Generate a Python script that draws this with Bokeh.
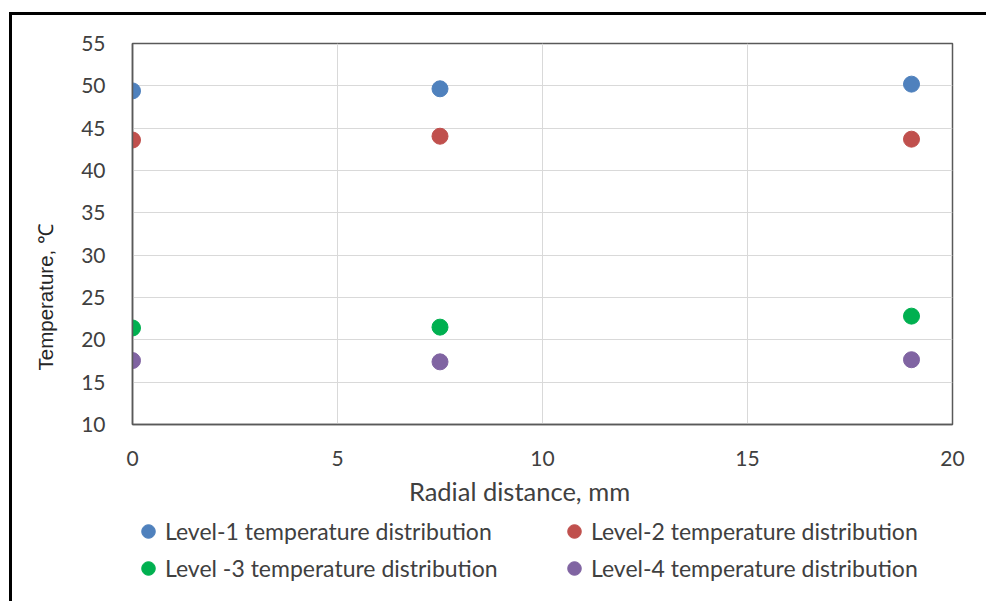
from bokeh.plotting import figure
from bokeh.layouts import column
from bokeh.models import Legend, LegendItem, FixedTicker, Range1d, Label, Title
from bokeh.embed import file_html
from bokeh.resources import INLINE

# Measured temperatures at each radial position
radial_mm = [0, 7.5, 19]
level1 = [49.4, 49.65, 50.2]
level2 = [43.6, 44.05, 43.7]
level3 = [21.4, 21.5, 22.8]
level4 = [17.55, 17.4, 17.65]

series_names = [
    "Level-1 temperature distribution",
    "Level-2 temperature distribution",
    "Level -3 temperature distribution",
    "Level-4 temperature distribution",
]
series_colors = ["#4F81BD", "#C0504D", "#00B050", "#8064A2"]

x_ticks = [0, 5, 10, 15, 20]
y_ticks = [10, 15, 20, 25, 30, 35, 40, 45, 50, 55]

FONT = "Lato"
GRID = "#D9D9D9"
AXIS = "#595959"
TEXT = "#404040"

# ---- main scatter plot ----
p = figure(
    width=974, height=455,
    x_range=Range1d(0, 20), y_range=Range1d(10, 55),
    output_backend="svg", toolbar_location=None,
    min_border_left=120, min_border_top=28, min_border_right=34, min_border_bottom=46,
)
p.background_fill_color = "white"
p.border_fill_color = "white"
p.outline_line_color = AXIS
p.outline_line_width = 1.5

for vals, color in zip([level1, level2, level3, level4], series_colors):
    p.scatter(radial_mm, vals, size=16, fill_color=color, line_color=color)

for ax in (p.xaxis[0], p.yaxis[0]):
    ax.major_tick_line_color = None
    ax.minor_tick_line_color = None
    ax.axis_line_color = AXIS
    ax.axis_line_width = 1.5
    ax.major_label_text_font = FONT
    ax.major_label_text_font_size = "21px"
    ax.major_label_text_color = TEXT

p.xaxis.ticker = FixedTicker(ticks=x_ticks)
p.yaxis.ticker = FixedTicker(ticks=y_ticks)
p.xaxis.major_label_standoff = 20
p.yaxis.major_label_standoff = 21

p.xgrid.grid_line_color = GRID
p.ygrid.grid_line_color = GRID
p.xgrid.ticker = FixedTicker(ticks=x_ticks)
p.ygrid.ticker = FixedTicker(ticks=y_ticks)

p.add_layout(Title(text="Temperature, \u2103", align="left", offset=54,
                   vertical_align="top", standoff=40,
                   text_font="Liberation Sans", text_font_size="20.5px",
                   text_font_style="normal", text_color="#262626"), "left")

# ---- strip below the plot: x-axis title and the legend ----
# x coordinates here are pixels from the left edge of the plot area
lg = figure(
    width=974, height=131,
    x_range=Range1d(0, 820), y_range=Range1d(0, 131),
    x_axis_type=None, y_axis_type=None,
    output_backend="svg", toolbar_location=None,
    min_border_left=120, min_border_right=34, min_border_top=0, min_border_bottom=0,
)
lg.outline_line_color = None
lg.background_fill_color = "white"
lg.border_fill_color = "white"

lg.add_layout(Label(x=387, y=111, text="Radial distance, mm",
                    text_align="center", text_baseline="middle",
                    text_font=FONT, text_font_size="25.5px", text_color=TEXT))

# legend swatches, kept off-screen; only their styling is used
swatches = [lg.scatter(x=[-1000], y=[-1000], size=16, fill_color=c, line_color=c)
            for c in series_colors]


def make_legend(idx, x):
    return Legend(
        items=[LegendItem(label=series_names[i], renderers=[swatches[i]]) for i in idx],
        orientation="vertical", location=(x, 16),
        glyph_width=34, glyph_height=34, label_standoff=0, spacing=3,
        padding=2, margin=0,
        border_line_color=None, background_fill_alpha=0,
        label_text_font=FONT, label_text_font_size="23px", label_text_color=TEXT,
    )


lg.add_layout(make_legend([0, 2], -1))
lg.add_layout(make_legend([1, 3], 425))

layout = column(p, lg, spacing=0, margin=(12, 0, 0, 9),
                styles={"border-left": "3px solid black", "border-top": "3px solid black"})

open("out.html", "w").write(file_html(layout, INLINE))
